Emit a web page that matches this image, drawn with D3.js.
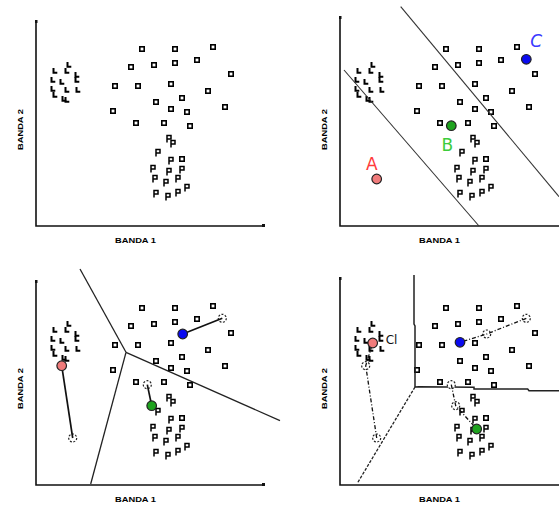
<!DOCTYPE html>
<html>
<head>
<meta charset="utf-8">
<script src="https://cdn.jsdelivr.net/npm/d3@7"></script>
<style>
  body { margin: 0; background: #fff; }
  svg { display: block; }
</style>
</head>
<body>
<script>
// band values (BANDA 1, BANDA 2)
const squares = [
  [106,177],[139,177],[177,179],[95,159],[118,161],[139,163],[161,166],[195,152],
  [79,140],[102,140],[135,142],[172,135],[120,124],[146,128],[135,117],[151,114],
  [189,119],[77,115],[100,103],[128,103],[154,100],[146,67]
]
const lMarks = [
  [33,161],[19,155],[31,155],[41,151],[41,146],[17,146],[26,144],
  [42,136],[17,137],[19,131],[31,136],[28,127],[31,126]
]
const pMarks = [
  [133,88],[137,83],[122,74],[135,66],[117,58],[133,55],[146,57],
  [119,48],[130,44],[142,48],[151,39],[120,33],[132,30],[142,34]
]

// centroids: start (panel 2), after 1st pass (panel 3), after 2nd pass (panel 4)
const centroidNames = ['A','B','C']
const centroidColors = ['#f07b7b','#1fa31f','#0a0af0']
const start = [[36.7,47],[111.3,100.3],[186.3,166.7]]
const pass1 = [[25.7,119.3],[115.7,79.3],[146.7,151]]
const pass2 = [[32.7,142],[136.7,56],[120,142.7]]

// decision boundaries
const split2a = [[4,156],[139,0]]
const split2b = [[60.7,219.3],[219,29.3]]
const junction3 = [90,132.7]
const arms3 = [[44,216],[54.7,1],[244,64.3]]
const vert4 = [[74,210],[74,161],[75,159],[75,98]]
const horiz4 = [[75,98],[79,98.3],[134,97.7],[134,96],[187.7,96],[189,94.3],[219,94.3]]
const diag4 = [[75,98],[17.3,1.7]]

let width = 559
let height = 508

const svg = d3.select('body').append('svg').attr('width', width).attr('height', height)

const panels = [
  {ox: 36, oy: 226, top: 205},
  {ox: 340, oy: 226, top: 209},
  {ox: 36, oy: 485, top: 204},
  {ox: 340, oy: 485, top: 207}
]

const line = (x, y) => d3.line().x(d => x(d[0])).y(d => y(d[1]))

const drawBase = (p) => {
  const x = d3.scaleLinear().domain([0, 230]).range([p.ox, p.ox + 230])
  const y = d3.scaleLinear().domain([0, 205]).range([p.oy, p.oy - 205])
  const g = svg.append('g')

  // axes
  g.append('path')
    .attr('d', `M${p.ox},${p.oy - p.top}V${p.oy}H${Math.min(p.ox + 229, width)}`)
    .attr('fill', 'none').attr('stroke', '#111').attr('stroke-width', 1.6)
  g.append('rect').attr('x', p.ox - 1).attr('y', p.oy - p.top - 1).attr('width', 2.5).attr('height', 3).attr('fill', '#111')
  if (p.ox + 229 < width)
    g.append('rect').attr('x', p.ox + 226).attr('y', p.oy - 2).attr('width', 3).attr('height', 3).attr('fill', '#111')

  g.append('text')
    .attr('x', p.ox + 79).attr('y', p.oy + 17)
    .attr('textLength', 41).attr('lengthAdjust', 'spacingAndGlyphs')
    .attr('font-family', 'Liberation Sans, Arial, sans-serif')
    .attr('font-weight', 'bold').attr('font-size', 7.5).attr('fill', '#000')
    .text('BANDA 1')
  g.append('text')
    .attr('transform', `translate(${p.ox - 13},${p.oy - 76}) rotate(-90)`)
    .attr('textLength', 41).attr('lengthAdjust', 'spacingAndGlyphs')
    .attr('font-family', 'Liberation Sans, Arial, sans-serif')
    .attr('font-weight', 'bold').attr('font-size', 7.5).attr('fill', '#000')
    .text('BANDA 2')

  g.selectAll('.sq').data(squares).enter().append('rect')
    .attr('x', d => x(d[0]) - 2.2).attr('y', d => y(d[1]) - 2.2)
    .attr('width', 4.4).attr('height', 4.4)
    .attr('fill', '#fff').attr('stroke', '#000').attr('stroke-width', 1.6)

  g.selectAll('.lm').data(lMarks).enter().append('path')
    .attr('d', d => `M${x(d[0]) - 1.5},${y(d[1]) - 3}v4.8h3.8`)
    .attr('fill', 'none').attr('stroke', '#000').attr('stroke-width', 2)

  g.selectAll('.pm').data(pMarks).enter().append('path')
    .attr('d', d => `M${x(d[0]) - 2},${y(d[1]) + 4.5}V${y(d[1]) - 2.5}H${x(d[0]) + 2}V${y(d[1]) + 1}H${x(d[0]) - 2}`)
    .attr('fill', 'none').attr('stroke', '#000').attr('stroke-width', 1.5)

  return {g, x, y}
}

const centroid = (g, x, y, pts) => {
  g.selectAll('.c').data(pts).enter().append('circle')
    .attr('cx', d => x(d[0])).attr('cy', d => y(d[1])).attr('r', 4.8)
    .attr('fill', (d, i) => centroidColors[i]).attr('stroke', '#222').attr('stroke-width', 1.2)
}

const ghost = (g, x, y, pts) => {
  g.selectAll('.gh').data(pts).enter().append('circle')
    .attr('cx', d => x(d[0])).attr('cy', d => y(d[1])).attr('r', 4)
    .attr('fill', '#fff').attr('stroke', '#222').attr('stroke-width', 1.2)
    .attr('stroke-dasharray', '2,1.5')
}

// panel 1: raw data
drawBase(panels[0])

// panel 2: initial centroids
{
  const {g, x, y} = drawBase(panels[1])
  ;[split2a, split2b].forEach(s => {
    g.append('path').attr('d', line(x, y)(s))
      .attr('fill', 'none').attr('stroke', '#333').attr('stroke-width', 1.1)
  })
  centroid(g, x, y, start)
  const offs = [[-5, -9], [-4, 25], [10, -12]]
  g.selectAll('.lab').data(start).enter().append('text')
    .attr('x', (d, i) => x(d[0]) + offs[i][0]).attr('y', (d, i) => y(d[1]) + offs[i][1])
    .attr('text-anchor', 'middle')
    .attr('font-family', 'DejaVu Sans, sans-serif').attr('font-size', 17)
    .attr('font-style', (d, i) => i === 2 ? 'italic' : 'normal')
    .attr('fill', (d, i) => ['#ff3b3b', '#3ccc3c', '#3a3aff'][i])
    .text((d, i) => centroidNames[i])
}

// panel 3: first pass
{
  const {g, x, y} = drawBase(panels[2])
  arms3.forEach(a => {
    g.append('path').attr('d', line(x, y)([junction3, a]))
      .attr('fill', 'none').attr('stroke', '#222').attr('stroke-width', 1.3)
  })
  ghost(g, x, y, start)
  start.forEach((s, i) => {
    g.append('path').attr('d', line(x, y)([s, pass1[i]]))
      .attr('fill', 'none').attr('stroke', '#111').attr('stroke-width', 1.7)
  })
  centroid(g, x, y, pass1)
}

// panel 4: second pass
{
  const {g, x, y} = drawBase(panels[3])
  g.append('path').attr('d', line(x, y)(vert4))
    .attr('fill', 'none').attr('stroke', '#222').attr('stroke-width', 1.5)
  g.append('path').attr('d', line(x, y)(horiz4))
    .attr('fill', 'none').attr('stroke', '#222').attr('stroke-width', 1.5)
  g.append('path').attr('d', line(x, y)(diag4))
    .attr('fill', 'none').attr('stroke', '#222').attr('stroke-width', 1.3)
    .attr('stroke-dasharray', '3,1.5')
  ghost(g, x, y, start)
  ghost(g, x, y, pass1)
  start.forEach((s, i) => {
    g.append('path').attr('d', line(x, y)([s, pass1[i], pass2[i]]))
      .attr('fill', 'none').attr('stroke', '#111').attr('stroke-width', 1.3)
      .attr('stroke-dasharray', '4,2,1,2')
  })
  centroid(g, x, y, pass2)
  g.append('text')
    .attr('x', x(pass2[0][0]) + 13).attr('y', y(pass2[0][1]) + 1)
    .attr('font-family', 'DejaVu Sans, sans-serif').attr('font-size', 12).attr('fill', '#111')
    .text('Cl')
}
</script>
</body>
</html>
